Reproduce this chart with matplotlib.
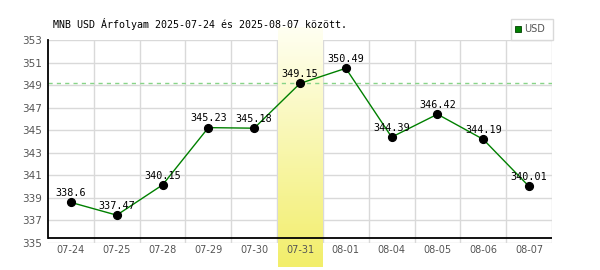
import numpy as np
import matplotlib
matplotlib.use("Agg")
import matplotlib.pyplot as plt
from matplotlib.patches import Rectangle

title = "MNB USD Árfolyam 2025-07-24 és 2025-08-07 között."
dates = ["07-24", "07-25", "07-28", "07-29", "07-30", "07-31",
         "08-01", "08-04", "08-05", "08-06", "08-07"]
values = [338.6, 337.47, 340.15, 345.23, 345.18, 349.15,
          350.49, 344.39, 346.42, 344.19, 340.01]
labels = ["338.6", "337.47", "340.15", "345.23", "345.18", "349.15",
          "350.49", "344.39", "346.42", "344.19", "340.01"]
yticks = [335, 337, 339, 341, 343, 345, 347, 349, 351, 353]
highlight = 5
series_name = "USD"

W, H = 600, 270
fig = plt.figure(figsize=(6, 2.7), dpi=100)
fig.patch.set_facecolor("white")

L, R, T, B = 48, 552, 40, 243
ax = fig.add_axes([L / W, 1 - B / H, (R - L) / W, (B - T) / H])
ax.set_facecolor("none")
n = len(dates)
ax.set_xlim(-0.5, n - 0.5)
ax.set_ylim(yticks[0], yticks[-1])
ppu = (B - T) / (yticks[-1] - yticks[0])

grid_c = "#d9d9d9"
for y in yticks:
    ax.axhline(y, color=grid_c, lw=1, zorder=0.5)
for k in range(n):
    ax.axvline(k + 0.5, color=grid_c, lw=1, zorder=0.5)

# highlighted band with vertical gradient
top_v = yticks[-1] + (T - 28) / ppu
bot_v = yticks[0] - (267 - B) / ppu
grad = np.linspace(0, 1, 256)[:, None]
c_top = np.array([255, 255, 242]) / 255
c_bot = np.array([242, 238, 106]) / 255
img = c_top[None, None, :] * (1 - grad[..., None]) + c_bot[None, None, :] * grad[..., None]
img = np.repeat(img, 2, axis=1)
im = ax.imshow(img, extent=(highlight - 0.49, highlight + 0.49, bot_v, top_v),
               aspect="auto", origin="upper", zorder=1, clip_on=False)
ax.set_xlim(-0.5, n - 0.5)
ax.set_ylim(yticks[0], yticks[-1])

ax.axhline(values[highlight], color="#88d488", lw=1, dashes=(3, 3), zorder=1.5)

x = np.arange(n)
ax.plot(x, values, color="#008000", lw=1, zorder=2)
ax.plot(x, values, "o", color="black", ms=5.6, zorder=3)

for i, (v, t) in enumerate(zip(values, labels)):
    ax.annotate(t, (i, v), xytext=(0, 4.6), textcoords="offset points",
                ha="center", va="baseline", fontsize=7.3,
                family="DejaVu Sans Mono", color="black", zorder=4)

ax.axhline(yticks[0] + 5 / ppu, color="black", lw=1.3, zorder=5)
for s in ["top", "right", "bottom"]:
    ax.spines[s].set_visible(False)
ax.spines["left"].set_color("black")
ax.spines["left"].set_linewidth(1.3)
ax.spines["left"].set_bounds(yticks[0] + 5 / ppu, yticks[-1])
ax.spines["left"].set_zorder(5)

ax.set_xticks(x)
ax.set_xticklabels(dates)
ax.set_yticks(yticks)
ax.set_yticklabels([str(v) for v in yticks])
ax.tick_params(axis="x", length=0, pad=1.5, labelsize=7, labelcolor="#555555")
ax.tick_params(axis="y", length=0, pad=4.3, labelsize=7.5, labelcolor="#555555")

fig.text(53 / W, 1 - 24 / H, title, fontsize=7.2, family="DejaVu Sans Mono",
         va="center", ha="left", color="black")

# legend box
fig.patches.append(Rectangle((511 / W, 1 - 40 / H), 42 / W, 21 / H,
                             transform=fig.transFigure, facecolor="white",
                             edgecolor=grid_c, lw=1))
fig.patches.append(Rectangle((515 / W, 1 - 32 / H), 6 / W, 6 / H,
                             transform=fig.transFigure, facecolor="#008000",
                             edgecolor="#004000", lw=0.6))
fig.text(524 / W, 1 - 29.5 / H, series_name, fontsize=7, color="#555555",
         va="center", ha="left")

fig.savefig("out.png", dpi=100)
